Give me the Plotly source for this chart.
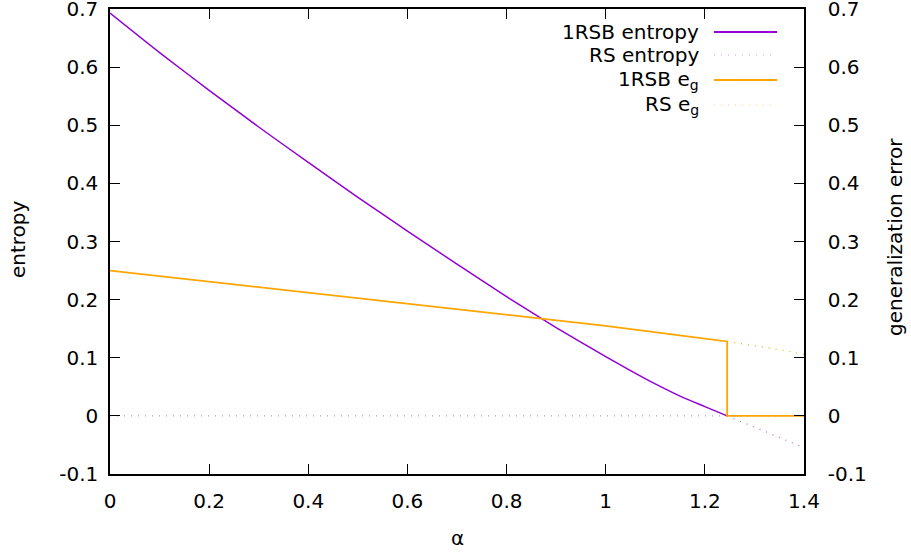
import plotly.graph_objects as go

# ---- data ----
alpha_1rsb = [0.0, 0.1, 0.2, 0.3, 0.4, 0.5, 0.6, 0.7, 0.8, 0.9, 1.0, 1.05, 1.1, 1.15, 1.2, 1.245]
entropy_1rsb = [0.693, 0.625, 0.560, 0.497, 0.436, 0.376, 0.318, 0.261, 0.205, 0.152, 0.102, 0.078, 0.055, 0.034, 0.016, 0.0]
alpha_rs_tail = [1.245, 1.3, 1.35, 1.4]
entropy_rs_tail = [0.0, -0.019, -0.037, -0.055]

alpha_eg = [0.0, 0.2, 0.4, 0.6, 0.8, 1.0, 1.2, 1.245, 1.245, 1.4]
eg_1rsb = [0.250, 0.231, 0.212, 0.193, 0.175, 0.155, 0.133, 0.128, 0.0, 0.0]
eg_rs_tail = [0.128, 0.121, 0.114, 0.106]

x_ticks = [0, 0.2, 0.4, 0.6, 0.8, 1.0, 1.2, 1.4]
x_ticktext = ["0", "0.2", "0.4", "0.6", "0.8", "1", "1.2", "1.4"]
y_ticks = [-0.1, 0, 0.1, 0.2, 0.3, 0.4, 0.5, 0.6, 0.7]
y_ticktext = ["-0.1", "0", "0.1", "0.2", "0.3", "0.4", "0.5", "0.6", "0.7"]

legend_labels = ["1RSB entropy", "RS entropy", "1RSB e<sub>g</sub>", "RS e<sub>g</sub>"]

PURPLE = "#9400D3"
ORANGE = "#FFA500"
FONT = "DejaVu Sans"

fig = go.Figure()
fig.add_trace(go.Scatter(x=alpha_rs_tail, y=entropy_rs_tail, mode="lines",
                         line=dict(color="#b060e0", width=1.2, dash="1px,6px"), showlegend=False))
fig.add_trace(go.Scatter(x=alpha_1rsb, y=entropy_1rsb, mode="lines", line_shape="spline",
                         line=dict(color=PURPLE, width=1.5, smoothing=0.6), showlegend=False))
fig.add_trace(go.Scatter(x=alpha_rs_tail, y=eg_rs_tail, mode="lines", yaxis="y2",
                         line=dict(color=ORANGE, width=1.2, dash="1px,6px"), showlegend=False))
fig.add_trace(go.Scatter(x=alpha_eg, y=eg_1rsb, mode="lines", yaxis="y2",
                         line=dict(color=ORANGE, width=1.8), showlegend=False))

# zero axis (gnuplot style dotted grey)
fig.add_shape(type="line", xref="paper", x0=0, x1=1, yref="y", y0=0, y1=0,
              line=dict(color="#909090", width=1, dash="1px,6px"), layer="below")

# manual gnuplot-style legend
leg_y_px = [32, 55, 80, 105]
leg_styles = [dict(color=PURPLE, width=2, dash="solid"),
              dict(color="#c8a0f0", width=1.2, dash="1px,6px"),
              dict(color=ORANGE, width=2, dash="solid"),
              dict(color="#ffd080", width=1.2, dash="1px,6px")]
def py(p):
    return (474 - p) / 465.0
def px(p):
    return (p - 110) / 694.0
for lab, ypx, st in zip(legend_labels, leg_y_px, leg_styles):
    fig.add_annotation(text=lab, xref="paper", yref="paper", x=px(701), y=py(ypx),
                       xanchor="right", yanchor="middle", showarrow=False,
                       font=dict(family=FONT, size=20, color="black"))
    fig.add_shape(type="line", xref="paper", yref="paper", x0=px(714), x1=px(777),
                  y0=py(ypx), y1=py(ypx), line=st)

# axis titles
fig.add_annotation(text="α", xref="paper", yref="paper", x=0.5, y=py(538),
                   xanchor="center", yanchor="middle", showarrow=False,
                   font=dict(family=FONT, size=20, color="black"))
fig.add_annotation(text="entropy", xref="paper", yref="paper", x=px(18), y=py(239),
                   xanchor="center", yanchor="middle", showarrow=False, textangle=-90,
                   font=dict(family=FONT, size=20, color="black"))
fig.add_annotation(text="generalization error", xref="paper", yref="paper", x=px(895), y=py(237),
                   xanchor="center", yanchor="middle", showarrow=False, textangle=-90,
                   font=dict(family=FONT, size=20, color="black"))

axis_common = dict(showgrid=False, zeroline=False, showline=True, linecolor="black",
                   linewidth=1.5, ticks="inside", ticklen=10, tickcolor="black", tickwidth=1,
                   ticklabeloverflow="allow", automargin=False,
                   tickfont=dict(family=FONT, size=20, color="black"))

fig.update_layout(
    width=911, height=552,
    margin=dict(l=110, r=107, t=9, b=78),
    paper_bgcolor="white", plot_bgcolor="white",
    showlegend=False,
    xaxis=dict(range=[0, 1.4], tickvals=x_ticks, ticktext=x_ticktext, mirror="ticks",
               ticklabelstandoff=8, **axis_common),
    yaxis=dict(range=[-0.1, 0.7], tickvals=y_ticks, ticktext=y_ticktext, mirror=False,
               ticklabelstandoff=6, **axis_common),
    yaxis2=dict(range=[-0.1, 0.7], tickvals=y_ticks, ticktext=y_ticktext, overlaying="y",
                side="right", ticklabelstandoff=18, **axis_common),
)

fig.write_html("out.html", config={"displayModeBar": False},
               post_script="document.body.style.margin='0';")
